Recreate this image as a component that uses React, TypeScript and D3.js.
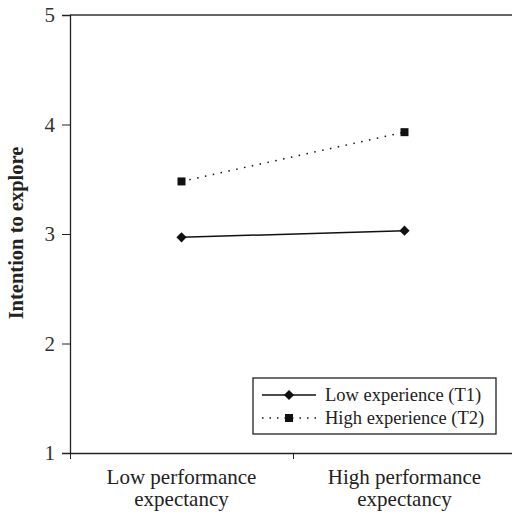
import React, { useEffect, useRef } from "react";
import * as d3 from "d3";

const categories = ["Low performance|expectancy", "High performance|expectancy"];
const lowExperience = [2.97, 3.03];
const highExperience = [3.48, 3.93];
const yTicks = [1, 2, 3, 4, 5];
const seriesNames = ["Low experience (T1)", "High experience (T2)"];

const App: React.FC = () => {
  const svgRef = useRef<SVGSVGElement>(null);

  useEffect(() => {
    const svg = d3.select(svgRef.current);
    svg.selectAll("*").remove();
    const width = 512;
    const height = 515;
    const margin = { top: 15, right: -4, bottom: 62, left: 70 };
    const font = "Liberation Serif, Times New Roman, serif";

    const x = d3
      .scaleBand()
      .domain(categories)
      .range([margin.left, width - margin.right]);

    const y = d3
      .scaleLinear()
      .domain([1, 5])
      .range([height - margin.bottom, margin.top]);

    // top frame line
    svg
      .append("line")
      .attr("x1", margin.left)
      .attr("x2", width)
      .attr("y1", y(5))
      .attr("y2", y(5))
      .attr("stroke", "#333")
      .attr("stroke-width", 1.5);

    // y axis
    const yAxis = svg
      .append("g")
      .attr("transform", `translate(${margin.left},0)`)
      .call(d3.axisLeft(y).tickValues(yTicks).tickFormat(d3.format("d")).tickSize(8).tickPadding(7));
    yAxis.attr("font-family", font).attr("font-size", 21);
    yAxis.select(".domain").attr("stroke", "#222").attr("stroke-width", 1.3);
    yAxis.selectAll("line").attr("stroke", "#222");
    yAxis.selectAll("text").attr("fill", "#333");

    // x axis
    const xAxis = svg
      .append("g")
      .attr("transform", `translate(0,${y(1)})`)
      .call(
        d3
          .axisBottom(d3.scaleLinear().domain([0, 2]).range([margin.left, margin.left + 2 * x.bandwidth()]))
          .tickValues([0, 1])
          .tickFormat(() => "")
          .tickSize(6)
          .tickSizeOuter(0)
      );
    xAxis.select(".domain").attr("stroke", "#222").attr("stroke-width", 1.3);
    xAxis.selectAll("line").attr("stroke", "#222");

    categories.forEach((c) => {
      const cx = x(c)! + x.bandwidth() / 2;
      const lines = c.split("|");
      lines.forEach((l, i) => {
        svg
          .append("text")
          .attr("x", cx)
          .attr("y", y(1) + 31 + i * 22)
          .attr("text-anchor", "middle")
          .attr("font-family", font)
          .attr("font-size", 21)
          .attr("fill", "#222")
          .text(l);
      });
    });

    // y label
    svg
      .append("text")
      .attr("transform", `translate(23,${233}) rotate(-90)`)
      .attr("text-anchor", "middle")
      .attr("font-family", font)
      .attr("font-size", 20.5)
      .attr("font-weight", "bold")
      .attr("fill", "#222")
      .text("Intention to explore");

    const cxOf = (i: number) => x(categories[i])! + x.bandwidth() / 2;
    const line = d3
      .line<number>()
      .x((d, i) => cxOf(i))
      .y((d) => y(d));

    // diamond = square rotated 45 degrees
    const diamond = d3.symbol().type(d3.symbolSquare).size(52);
    const square = d3.symbol().type(d3.symbolSquare).size(64);

    svg
      .append("path")
      .datum(lowExperience)
      .attr("fill", "none")
      .attr("stroke", "#111")
      .attr("stroke-width", 1.5)
      .attr("d", line);

    svg
      .append("path")
      .datum(highExperience)
      .attr("fill", "none")
      .attr("stroke", "#111")
      .attr("stroke-width", 1.5)
      .attr("stroke-dasharray", "1.5,6.5")
      .attr("d", line);

    lowExperience.forEach((v, i) => {
      svg
        .append("path")
        .attr("d", diamond()!)
        .attr("transform", `translate(${cxOf(i)},${y(v)}) rotate(45)`)
        .attr("fill", "#111");
    });
    highExperience.forEach((v, i) => {
      svg
        .append("path")
        .attr("d", square()!)
        .attr("transform", `translate(${cxOf(i)},${y(v)})`)
        .attr("fill", "#111");
    });

    // legend
    const lg = svg.append("g").attr("transform", "translate(253,378)");
    lg.append("rect")
      .attr("width", 243)
      .attr("height", 56)
      .attr("fill", "white")
      .attr("stroke", "#222")
      .attr("stroke-width", 1.3);
    seriesNames.forEach((name, i) => {
      const ry = 17 + i * 23;
      lg.append("line")
        .attr("x1", 9)
        .attr("x2", 63)
        .attr("y1", ry)
        .attr("y2", ry)
        .attr("stroke", "#111")
        .attr("stroke-width", 1.3)
        .attr("stroke-dasharray", i === 0 ? null : "1.5,6");
      lg.append("path")
        .attr("d", (i === 0 ? diamond : square)()!)
        .attr("transform", `translate(36,${ry})${i === 0 ? " rotate(45)" : ""}`)
        .attr("fill", "#111");
      lg.append("text")
        .attr("x", 72)
        .attr("y", ry + 6)
        .attr("font-family", font)
        .attr("font-size", 18.5)
        .attr("fill", "#222")
        .text(name);
    });
  }, []);

  return (
    <svg
      ref={svgRef}
      width={512}
      height={515}
      style={{ display: "block", position: "absolute", left: 0, top: 0 }}
    />
  );
};

export default App;
